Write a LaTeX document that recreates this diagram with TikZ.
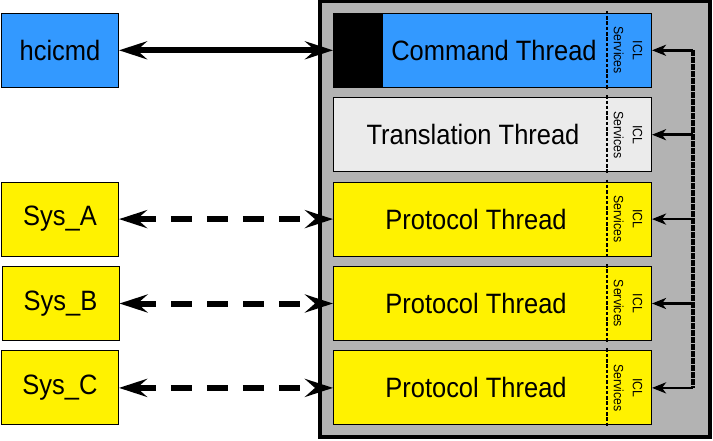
\documentclass[tikz,border=0pt]{standalone}
\usepackage{fontspec}
\setmainfont{Liberation Sans}[FakeStretch=0.91]
\usetikzlibrary{arrows.meta,positioning}

\definecolor{cmdblue}{HTML}{3399FF}
\definecolor{framegray}{HTML}{B3B3B3}
\definecolor{transgray}{HTML}{EBEBEB}

\begin{document}
\begin{tikzpicture}
%Threads of the ICL
	[
	 %Styles
	 x=1pt, y=-1pt,
	 inner sep=0pt,
	 frame_node/.style={rectangle,draw=black,line width=3.5pt,fill=framegray},
	 ext_node/.style={rectangle,draw=black,line width=1pt,minimum width=117pt,minimum height=74pt,font=\fontsize{28}{30}\selectfont},
	 thread_node/.style={rectangle,draw=black,line width=1pt,minimum width=318pt,minimum height=74pt},
	 label_main/.style={font=\fontsize{28}{30}\selectfont},
	 label_icl/.style={rotate=-90,align=center,font=\fontsize{13.5}{19}\selectfont},
	 divider/.style={line width=1.8pt,dash pattern=on 3.5pt off 1.8pt},
	 link_solid/.style={line width=6pt,{Stealth[length=28pt,width=18pt,inset=10pt]}-{Stealth[length=28pt,width=18pt,inset=10pt]}},
	 link_dashed/.style={link_solid,dash pattern=on 21pt off 15pt},
	 bus_line/.style={line width=3.5pt,dash pattern=on 6pt off 1pt},
	 bus_arrow/.style={line width=2.6pt,-{Stealth[length=14pt,width=11pt,inset=4pt]}}
	]
	\useasboundingbox (0,0) rectangle (713,440);

	%Container
	\node (container) [frame_node,minimum width=390pt,minimum height=435.5pt] at (515,219.25) {};

	%Thread boxes
	\node (cmd) [thread_node,fill=cmdblue] at (492.5,50.3) {};
	\node (trans) [thread_node,fill=transgray,below=9.4pt of cmd] {};
	\node (protoa) [thread_node,fill=yellow,below=9.4pt of trans] {};
	\node (protob) [thread_node,fill=yellow,below=9.4pt of protoa] {};
	\node (protoc) [thread_node,fill=yellow,below=9.4pt of protob] {};
	\node (cmdblock) [fill=black,minimum width=50pt,minimum height=74pt,anchor=west] at (cmd.west) {};

	%Thread labels
	\node (cmdlabel) [label_main] at (494,0 |- cmd) {Command Thread};
	\node (translabel) [label_main] at (473,0 |- trans) {Translation Thread};
	\node (protoalabel) [label_main] at (476,0 |- protoa) {Protocol Thread};
	\node (protoblabel) [label_main] at (476,0 |- protob) {Protocol Thread};
	\node (protoclabel) [label_main] at (476,0 |- protoc) {Protocol Thread};

	%ICL column and bus taps
	\foreach \t in {cmd,trans,protoa,protob,protoc}{
		\draw [divider] (606.7,0 |- \t.north) ++(0,-2) -- ++(0,78);
		\node (icl\t) [label_icl] at (628,0 |- \t) {ICL\\Services};
		\coordinate (bus\t) at (693,0 |- \t);
		\path (bus\t) edge [bus_arrow] (\t);
	}
	\draw [bus_line] (buscmd) -- (busprotoc);

	%External nodes
	\node (hcicmd) [ext_node,fill=cmdblue] at (60,0 |- cmd) {hcicmd};
	\node (sysa) [ext_node,fill=yellow] at (60,0 |- protoa) {Sys\_A};
	\node (sysb) [ext_node,fill=yellow] at (60.5,0 |- protob) {Sys\_B};
	\node (sysc) [ext_node,fill=yellow] at (60,0 |- protoc) {Sys\_C};

	%Edges
	\path
	 (hcicmd) edge [link_solid] (cmd)
	 (sysa) edge [link_dashed] (protoa)
	 (sysb) edge [link_dashed] (protob)
	 (sysc) edge [link_dashed] (protoc);
\end{tikzpicture}
\end{document}
